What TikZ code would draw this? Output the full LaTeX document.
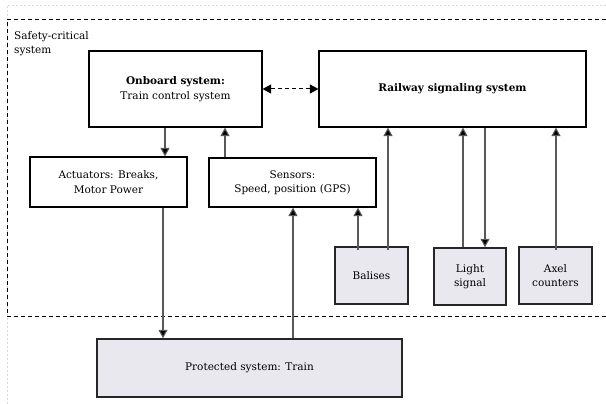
\documentclass[tikz,border=0pt]{standalone}
\usepackage{fontspec}
\setmainfont{DejaVu Serif}
\usetikzlibrary{arrows.meta}
\definecolor{gfill}{RGB}{232,232,238}
\begin{document}
\begin{tikzpicture}[x=1pt,y=-1pt,
  font=\rmfamily\fontsize{10.5}{14.5}\selectfont,
  box/.style={draw=black,line width=1.2pt,fill=white,align=center,inner sep=0pt},
  gbox/.style={draw=black!85,line width=1.5pt,fill=gfill,align=center,inner sep=0pt},
  tip/.style={-{Triangle[length=8.5pt,width=9pt,fill=black]}},
  conn/.style={draw=black!65,line width=1.1pt,tip}]
\useasboundingbox (0,0) rectangle (606,404);
% faint outer frame
\draw[black!15,line width=0.8pt,dash pattern=on 2pt off 2pt] (7,404) -- (7,5) -- (606,5);
% safety-critical boundary
\draw[black,line width=0.9pt,dash pattern=on 4pt off 3pt] (606,19) -- (7,19) -- (7,316) -- (606,316);
\node[anchor=north west,align=left,inner sep=0pt] (safety) at (14,31) {Safety-critical\\system};
% nodes
\node[box,minimum width=173pt,minimum height=76pt] (onboard) at (175.5,89) {\textbf{Onboard system:}\\Train control system};
\node[box,minimum width=267pt,minimum height=76pt] (rail) at (452.5,89) {\textbf{Railway signaling system}};
\node[box,minimum width=157pt,minimum height=50pt] (act) at (108.5,182) {Actuators: Breaks,\\Motor Power};
\node[box,minimum width=167pt,minimum height=49pt] (sens) at (292.5,182.5) {Sensors:\\Speed, position (GPS)};
\node[gbox,minimum width=73pt,minimum height=57pt] (bal) at (371.5,275.5) {Balises};
\node[gbox,minimum width=72pt,minimum height=57pt] (light) at (470,276.5) {Light\\signal};
\node[gbox,minimum width=73pt,minimum height=57pt] (axel) at (555.5,275.5) {Axel\\counters};
\node[gbox,minimum width=305pt,minimum height=58pt] (train) at (249.5,368) {Protected system: Train};
% x positions of connectors
\coordinate (xa) at (165,0);
\coordinate (xb) at (225,0);
\coordinate (xc) at (163,0);
\coordinate (xd) at (293,0);
\coordinate (xe) at (358,0);
\coordinate (xf) at (388,0);
\coordinate (xg) at (463,0);
\coordinate (xh) at (485,0);
\coordinate (xi) at (556,0);
% connectors
\draw[conn] (onboard.south -| xa) -- (act.north -| xa);
\draw[conn] (sens.north -| xb) -- (onboard.south -| xb);
\draw[conn] (act.south -| xc) -- (train.north -| xc);
\draw[conn] (train.north -| xd) -- (sens.south -| xd);
\draw[conn] ([yshift=-4pt]bal.north -| xe) -- (sens.south -| xe);
\draw[conn] ([yshift=-4pt]bal.north -| xf) -- (rail.south -| xf);
\draw[conn] (light.north -| xg) -- (rail.south -| xg);
\draw[conn] (rail.south -| xh) -- (light.north -| xh);
\draw[conn] ([yshift=-4pt]axel.north -| xi) -- (rail.south -| xi);
\draw[black,line width=1pt,dash pattern=on 4pt off 3pt,{Triangle[length=8.5pt,width=9pt]}-{Triangle[length=8.5pt,width=9pt]}] (onboard.east) -- (rail.west);
\end{tikzpicture}
\end{document}
